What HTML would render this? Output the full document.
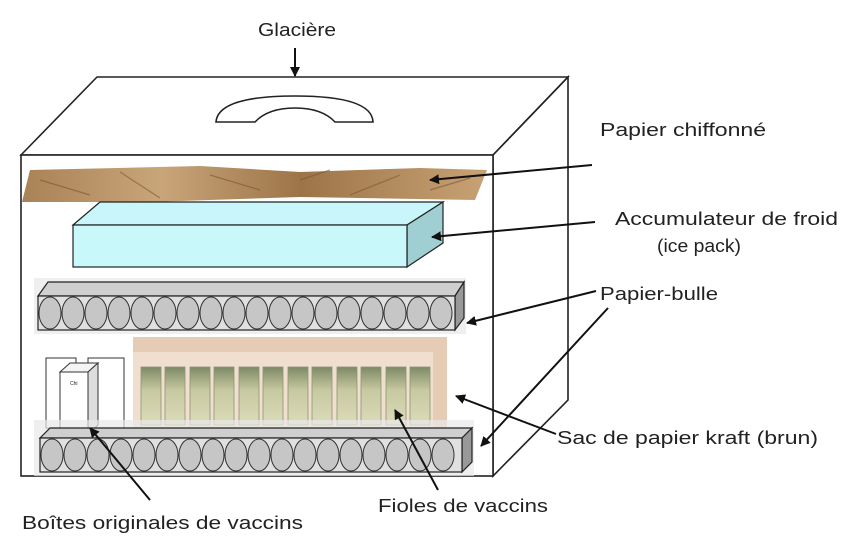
<!DOCTYPE html>
<html><head><meta charset="utf-8"><style>
html,body{margin:0;padding:0;background:#fff;}
svg{display:block;}
text{font-family:"Liberation Sans",sans-serif;font-size:18px;fill:#222;}
</style></head><body>
<svg width="850" height="548" viewBox="0 0 850 548" xmlns="http://www.w3.org/2000/svg">
<defs>
<marker id="ah" markerWidth="10" markerHeight="10" refX="9" refY="5" orient="auto" markerUnits="userSpaceOnUse">
<path d="M0,0 L10,5 L0,10 z" fill="#111"/></marker>
<linearGradient id="kr" x1="0" y1="0" x2="1" y2="0">
<stop offset="0" stop-color="#a98256"/><stop offset="0.3" stop-color="#c9a57a"/><stop offset="0.6" stop-color="#9c7448"/><stop offset="1" stop-color="#c8a275"/></linearGradient>
<linearGradient id="vi" x1="0" y1="0" x2="0" y2="1">
<stop offset="0" stop-color="#7d8a66"/><stop offset="0.4" stop-color="#c7c9a0"/><stop offset="1" stop-color="#dcdcba"/></linearGradient>
</defs>
<!-- box -->
<g fill="none" stroke="#222" stroke-width="1.6">
<polygon points="21,155 97,77 568,77 493,155"/>
<polygon points="493,155 568,77 568,400 493,476"/>
<rect x="21" y="155" width="472" height="321" fill="#fff"/>
<path d="M216,122 Q218,96 295,96 Q372,96 373,122 L335,122 Q322,108 295,108 Q268,108 255,122 Z" fill="#fff"/>
</g>
<!-- crumpled paper -->
<path d="M30,170 L200,166 L300,172 L420,168 L487,170 L475,200 L300,197 L150,202 L22,202 Z" fill="url(#kr)"/>
<path d="M40,180 L90,195 M120,172 L160,198 M210,175 L260,190 M300,180 L330,170 M350,195 L400,175 M430,190 L470,178" stroke="#7a5532" stroke-width="1.2" opacity="0.6"/>
<!-- ice pack -->
<g stroke="#222" stroke-width="1.2">
<polygon points="73,225 100,202 443,202 407,225" fill="#c9f6fa"/>
<polygon points="407,225 443,202 443,243 407,267" fill="#9fcfd2"/>
<rect x="73" y="225" width="334" height="42" fill="#c9f8fb"/>
</g>
<!-- bubble wrap 1 -->
<rect x="34" y="278" width="432" height="56" fill="#e8e8e8" opacity="0.7"/>
<g stroke="#222" stroke-width="1.2">
<polygon points="38,296 48,282 464,282 455,296" fill="#cfcfcf"/>
<polygon points="455,296 464,282 464,318 455,330" fill="#999"/>
<rect x="38" y="296" width="417" height="34" fill="#e0e0e0"/>
</g>
<g fill="#c6c6c6" stroke="#333" stroke-width="1">
<ellipse cx="50" cy="313" rx="11" ry="16"/><ellipse cx="73" cy="313" rx="11" ry="16"/><ellipse cx="96" cy="313" rx="11" ry="16"/><ellipse cx="119" cy="313" rx="11" ry="16"/><ellipse cx="142" cy="313" rx="11" ry="16"/><ellipse cx="165" cy="313" rx="11" ry="16"/><ellipse cx="188" cy="313" rx="11" ry="16"/><ellipse cx="211" cy="313" rx="11" ry="16"/><ellipse cx="234" cy="313" rx="11" ry="16"/><ellipse cx="257" cy="313" rx="11" ry="16"/><ellipse cx="280" cy="313" rx="11" ry="16"/><ellipse cx="303" cy="313" rx="11" ry="16"/><ellipse cx="326" cy="313" rx="11" ry="16"/><ellipse cx="349" cy="313" rx="11" ry="16"/><ellipse cx="372" cy="313" rx="11" ry="16"/><ellipse cx="395" cy="313" rx="11" ry="16"/><ellipse cx="418" cy="313" rx="11" ry="16"/><ellipse cx="441" cy="313" rx="11" ry="16"/>
</g>
<!-- kraft bag -->
<rect x="133" y="337" width="314" height="92" fill="#e6cbb5"/>
<rect x="133" y="352" width="300" height="77" fill="#f0dfcf"/>
<g fill="url(#vi)" stroke="#8c9470" stroke-width="0.8">
<rect x="141" y="367" width="20" height="58"/><rect x="165" y="367" width="20" height="58"/><rect x="190" y="367" width="20" height="58"/><rect x="214" y="367" width="20" height="58"/><rect x="239" y="367" width="20" height="58"/><rect x="263" y="367" width="20" height="58"/><rect x="288" y="367" width="20" height="58"/><rect x="312" y="367" width="20" height="58"/><rect x="337" y="367" width="20" height="58"/><rect x="361" y="367" width="20" height="58"/><rect x="386" y="367" width="20" height="58"/><rect x="410" y="367" width="20" height="58"/>
</g>
<!-- vaccine boxes -->
<g stroke="#333" stroke-width="1" fill="#fff">
<rect x="46" y="358" width="30" height="70"/><rect x="88" y="358" width="36" height="70"/>
<rect x="60" y="372" width="28" height="63"/><polygon points="60,372 70,363 98,363 88,372" fill="#f4f4f4"/><polygon points="88,372 98,363 98,425 88,435" fill="#ddd"/>
</g>
<text x="70" y="385" style="font-size:5px">Chi</text>
<!-- bubble wrap 2 -->
<rect x="34" y="420" width="440" height="56" fill="#e8e8e8" opacity="0.7"/>
<g stroke="#222" stroke-width="1.2">
<polygon points="40,438 50,428 472,428 462,438" fill="#cfcfcf"/>
<polygon points="462,438 472,428 472,462 462,472" fill="#999"/>
<rect x="40" y="438" width="422" height="34" fill="#e0e0e0"/>
</g>
<g fill="#c6c6c6" stroke="#333" stroke-width="1">
<ellipse cx="52" cy="455" rx="11" ry="16"/><ellipse cx="75" cy="455" rx="11" ry="16"/><ellipse cx="98" cy="455" rx="11" ry="16"/><ellipse cx="121" cy="455" rx="11" ry="16"/><ellipse cx="144" cy="455" rx="11" ry="16"/><ellipse cx="167" cy="455" rx="11" ry="16"/><ellipse cx="190" cy="455" rx="11" ry="16"/><ellipse cx="213" cy="455" rx="11" ry="16"/><ellipse cx="236" cy="455" rx="11" ry="16"/><ellipse cx="259" cy="455" rx="11" ry="16"/><ellipse cx="282" cy="455" rx="11" ry="16"/><ellipse cx="305" cy="455" rx="11" ry="16"/><ellipse cx="328" cy="455" rx="11" ry="16"/><ellipse cx="351" cy="455" rx="11" ry="16"/><ellipse cx="374" cy="455" rx="11" ry="16"/><ellipse cx="397" cy="455" rx="11" ry="16"/><ellipse cx="420" cy="455" rx="11" ry="16"/><ellipse cx="443" cy="455" rx="11" ry="16"/>
</g>
<!-- arrows -->
<g stroke="#111" stroke-width="2" marker-end="url(#ah)">
<line x1="295" y1="48" x2="295" y2="76"/>
<line x1="592" y1="165" x2="430" y2="180"/>
<line x1="595" y1="222" x2="432" y2="237"/>
<line x1="596" y1="291" x2="467" y2="323"/>
<line x1="608" y1="308" x2="481" y2="446"/>
<line x1="556" y1="434" x2="456" y2="396"/>
<line x1="438" y1="490" x2="395" y2="410"/>
<line x1="150" y1="500" x2="90" y2="428"/>
</g>
<!-- labels -->
<text x="258" y="36" textLength="78" lengthAdjust="spacingAndGlyphs">Glacière</text>
<text x="600" y="136" textLength="166" lengthAdjust="spacingAndGlyphs">Papier chiffonné</text>
<text x="615" y="225" textLength="223" lengthAdjust="spacingAndGlyphs">Accumulateur de froid</text>
<text x="657" y="252" textLength="84" lengthAdjust="spacingAndGlyphs">(ice pack)</text>
<text x="600" y="300" textLength="118" lengthAdjust="spacingAndGlyphs">Papier-bulle</text>
<text x="557" y="444" textLength="261" lengthAdjust="spacingAndGlyphs">Sac de papier kraft (brun)</text>
<text x="378" y="512" textLength="170" lengthAdjust="spacingAndGlyphs">Fioles de vaccins</text>
<text x="22" y="529" textLength="281" lengthAdjust="spacingAndGlyphs">Boîtes originales de vaccins</text>
</svg>
</body></html>
